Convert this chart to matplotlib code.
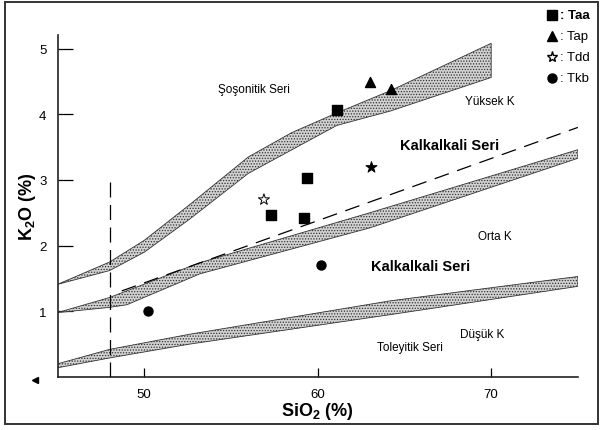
import matplotlib
matplotlib.use("Agg")
import matplotlib.pyplot as plt
from matplotlib.lines import Line2D
from matplotlib.patches import Rectangle
import numpy as np

plt.rcParams['font.family'] = ['Liberation Sans', 'DejaVu Sans']
plt.rcParams['hatch.color'] = '#4a4a4a'
plt.rcParams['hatch.linewidth'] = 0.6

# --- boundary bands (SiO2 %, K2O %) ---
band1_top_x = [45, 48, 50, 52.6, 56, 58.5, 61.1, 64.2, 70]
band1_top_y = [1.41, 1.75, 2.08, 2.62, 3.35, 3.72, 4.02, 4.36, 5.08]
band1_bot_x = [45, 48, 50, 52.6, 56, 61.1, 64.2, 70]
band1_bot_y = [1.41, 1.62, 1.90, 2.40, 3.10, 3.83, 4.05, 4.56]

band2_top_x = [45, 48, 53.2, 63, 75]
band2_top_y = [0.98, 1.21, 1.74, 2.50, 3.46]
band2_bot_x = [45, 48, 49, 53.2, 63, 75]
band2_bot_y = [0.98, 1.06, 1.10, 1.57, 2.27, 3.33]

band3_top_x = [45, 48, 52.6, 64.2, 75]
band3_top_y = [0.20, 0.42, 0.65, 1.16, 1.53]
band3_bot_x = [45, 48, 52.6, 64.2, 75]
band3_bot_y = [0.14, 0.29, 0.50, 0.95, 1.38]

# dashed calc-alkaline divider and basalt limit
dash_x = [48.7, 75]
dash_y = [1.31, 3.80]
basalt_x = 48
basalt_top = 3.07

# --- samples ---
taa_x = [61.1, 59.4, 57.3, 59.2]
taa_y = [4.07, 3.03, 2.47, 2.42]
tap_x = [63.0, 64.2]
tap_y = [4.49, 4.38]
tdd_x = [56.9, 63.1]
tdd_y = [2.70, 3.19]
tdd_fill = ['white', 'black']
tkb_x = [50.2, 60.2]
tkb_y = [1.00, 1.71]

# --- field names ---
field_labels = ['Şoşonitik Seri', 'Yüksek K', 'Kalkalkali Seri', 'Orta K',
                'Kalkalkali Seri', 'Düşük K', 'Toleyitik Seri']
field_x = [56.3, 69.9, 67.6, 70.2, 65.9, 69.5, 65.3]
field_y = [4.38, 4.20, 3.53, 2.15, 1.69, 0.65, 0.45]
field_bold = [False, False, True, False, True, False, False]

legend_names = [': Taa', ': Tap', ': Tdd', ': Tkb']
legend_markers = ['s', '^', '*', 'o']
legend_faces = ['black', 'black', 'white', 'black']
legend_weights = ['bold', 'normal', 'normal', 'normal']

x_ticks = [50, 60, 70]
y_ticks = [1, 2, 3, 4, 5]

fig = plt.figure(figsize=(6.03, 4.31), dpi=100)
ax = fig.add_axes([0.0954, 0.123, 0.863, 0.794])
ax.set_xlim(45, 75)
ax.set_ylim(0, 5.21)

def band(tx, ty, bx, by):
    px = list(tx) + list(bx)[::-1]
    py = list(ty) + list(by)[::-1]
    ax.fill(px, py, facecolor='#d2d2d2', edgecolor='#333333', hatch='......',
            linewidth=0.6, zorder=2)

band(band1_top_x, band1_top_y, band1_bot_x, band1_bot_y)
band(band2_top_x, band2_top_y, band2_bot_x, band2_bot_y)
band(band3_top_x, band3_top_y, band3_bot_x, band3_bot_y)

ax.plot(dash_x, dash_y, color='black', linewidth=0.9, dashes=(12, 7), zorder=3)
ax.plot([basalt_x, basalt_x], [0, basalt_top], color='black', linewidth=0.9,
        dashes=(12, 6), zorder=3)

ax.scatter(taa_x, taa_y, marker='s', s=44, color='black', zorder=5)
ax.scatter(tap_x, tap_y, marker='^', s=52, color='black', zorder=5)
ax.scatter(tdd_x, tdd_y, marker='*', s=70, facecolors=tdd_fill,
           edgecolors='black', linewidths=0.7, zorder=5)
ax.scatter(tkb_x, tkb_y, marker='o', s=42, color='black', zorder=5)

for t, x, y, b in zip(field_labels, field_x, field_y, field_bold):
    ax.text(x, y, t, ha='center', va='center',
            fontsize=10.5 if b else 8.5,
            fontweight='bold' if b else 'normal', zorder=6)

for s in ['top', 'right']:
    ax.spines[s].set_visible(False)
for s in ['left', 'bottom']:
    ax.spines[s].set_linewidth(1.2)
    ax.spines[s].set_color('#222222')

ax.set_xticks(x_ticks)
ax.set_yticks(y_ticks)
ax.tick_params(axis='y', direction='in', length=11, width=0.9, labelsize=9.5, pad=8)
ax.tick_params(axis='x', direction='in', length=6.5, width=0.9, labelsize=9.5, pad=8)

ax.set_xlabel('SiO$_\\mathregular{2}$ (%)', fontsize=13, fontweight='bold', labelpad=0)
ax.set_ylabel('K$_\\mathregular{2}$O (%)', fontsize=13, fontweight='bold', labelpad=1)

# legend drawn at the upper right corner of the sheet
ly = [0.962, 0.914, 0.865, 0.817]
for name, mk, fc, fw, yy in zip(legend_names, legend_markers, legend_faces,
                                legend_weights, ly):
    fig.add_artist(Line2D([0.916], [yy], marker=mk, markersize=8 if mk == '*' else 6.5,
                          markerfacecolor=fc, markeredgecolor='black',
                          linestyle='none', transform=fig.transFigure))
    fig.text(0.929, yy, name, ha='left', va='center', fontsize=9.5, fontweight=fw)

# small mark left of the axis foot and the sheet frame
fig.add_artist(Line2D([0.058], [0.116], marker='<', markersize=4, color='black',
                      transform=fig.transFigure))
fig.add_artist(Rectangle((0.009, 0.013), 0.982, 0.98, fill=False,
                         edgecolor='#333333', linewidth=1.4,
                         transform=fig.transFigure))

fig.savefig('out.png', dpi=100)
